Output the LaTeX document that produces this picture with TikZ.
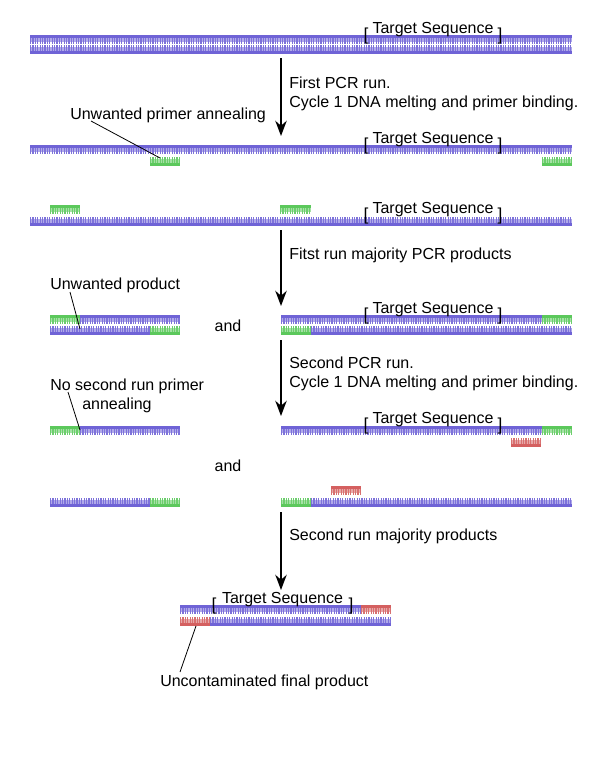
\documentclass[tikz,border=0pt]{standalone}
\usepackage{fontspec}
\setmainfont{Liberation Sans}
\usetikzlibrary{arrows.meta,positioning}
\definecolor{purp}{HTML}{6F63D6}
\definecolor{grn}{HTML}{5CC85C}
\definecolor{rd}{HTML}{D46060}
\tikzset{
  >=Stealth,
  every node/.append style={font=\fontsize{12}{14}\selectfont},
  flow/.style={-{Stealth[length=4mm,width=3mm]}, line width=1.4pt},
  label/.style={align=left, anchor=west, inner sep=0pt},
  pointer/.style={draw, line width=0.6pt},
  brk/.style={inner sep=0pt, font=\fontsize{13}{13}\selectfont}
}
% #1 colour, #2 x start, #3 x end, #4 y of backbone, #5 teeth side (1 below, -1 above)
\newcommand\seg[5]{%
  \fill[#1] (#2,#4) rectangle (#3,{#4+3*#5});
  \fill[#1!55!white] (#2,{#4+3*#5}) rectangle (#3,{#4+7*#5});
  \draw[#1!90!white, line width=4.5pt, dash pattern=on 0.9pt off 0.9pt]
    (#2,{#4+6*#5}) -- (#3,{#4+6*#5});
}
\newcommand\target[4]{% name, x left bracket, x right bracket, y
  \node[brk] (#1l) at (#2,#4+4) {[};
  \node[brk] (#1r) at (#3,#4+4) {]};
  \node[inner sep=0pt] (#1) at ({(#2+#3)/2},#4-2) {Target Sequence};
}
\begin{document}
\begin{tikzpicture}[x=0.75pt, y=-0.75pt]
\useasboundingbox (0,0) rectangle (600,758);

% starting double strand
\seg{purp}{30}{572}{35}{1}
\seg{purp}{30}{572}{54}{-1}
\target{ts1}{366}{500}{32}

\coordinate (a1s) at (281,58);
\coordinate (a1e) at (281,136);
\draw[flow] (a1s) -- (a1e);
\node[label] (run1) at (289,94) {First PCR run.\\Cycle 1 DNA melting and primer binding.};

% cycle 1, melted strands
\seg{purp}{30}{572}{145}{1}
\seg{grn}{150}{180}{166}{-1}
\seg{grn}{542}{572}{166}{-1}
\target{ts2}{366}{500}{142}
\node[label] (unw) at (70,115) {Unwanted primer annealing};
\coordinate (unwp) at (160,158);
\draw[pointer] (91,121) -- (unwp);

\seg{purp}{30}{572}{226}{-1}
\seg{grn}{50}{80}{205}{1}
\seg{grn}{280}{311}{205}{1}
\target{ts3}{366}{500}{212}

\coordinate (a2s) at (281,230);
\coordinate (a2e) at (281,306);
\draw[flow] (a2s) -- (a2e);
\node[label] (maj1) at (289,255) {Fitst run majority PCR products};

% first run products
\seg{grn}{50}{80}{315}{1}
\seg{purp}{80}{180}{315}{1}
\seg{purp}{50}{150}{335}{-1}
\seg{grn}{150}{180}{335}{-1}
\node[label] (prod) at (50,285) {Unwanted product};
\coordinate (prodp) at (80,329);
\draw[pointer] (70,292) -- (prodp);
\node (and1) at (228,326) {and};

\seg{purp}{281}{542}{315}{1}
\seg{grn}{542}{572}{315}{1}
\seg{grn}{281}{311}{335}{-1}
\seg{purp}{311}{572}{335}{-1}
\target{ts4}{366}{500}{312}

\coordinate (a3s) at (281,340);
\coordinate (a3e) at (281,416);
\draw[flow] (a3s) -- (a3e);
\node[label] (run2) at (289,374) {Second PCR run.\\Cycle 1 DNA melting and primer binding.};

% second run, cycle 1
\seg{grn}{50}{80}{426}{1}
\seg{purp}{80}{180}{426}{1}
\node[label] (nosec) at (50,396) {No second run primer\\\hspace*{24pt}annealing};
\coordinate (nosecp) at (80,430);
\draw[pointer] (68,392) -- (nosecp);

\seg{purp}{281}{542}{426}{1}
\seg{grn}{542}{572}{426}{1}
\seg{rd}{511}{541}{447}{-1}
\target{ts5}{366}{500}{422}

\node (and2) at (228,466) {and};

\seg{purp}{50}{150}{507}{-1}
\seg{grn}{150}{180}{507}{-1}
\seg{grn}{281}{311}{507}{-1}
\seg{purp}{311}{572}{507}{-1}
\seg{rd}{331}{361}{486}{1}

\coordinate (a4s) at (281,512);
\coordinate (a4e) at (281,590);
\draw[flow] (a4s) -- (a4e);
\node[label] (maj2) at (289,536) {Second run majority products};

% final product
\seg{purp}{180}{361}{605}{1}
\seg{rd}{361}{391}{605}{1}
\seg{rd}{180}{210}{626}{-1}
\seg{purp}{210}{391}{626}{-1}
\target{ts6}{214}{351}{602}
\node[label] (final) at (160,682) {Uncontaminated final product};
\coordinate (finalp) at (196,626);
\draw[pointer] (180,672) -- (finalp);
\end{tikzpicture}
\end{document}
